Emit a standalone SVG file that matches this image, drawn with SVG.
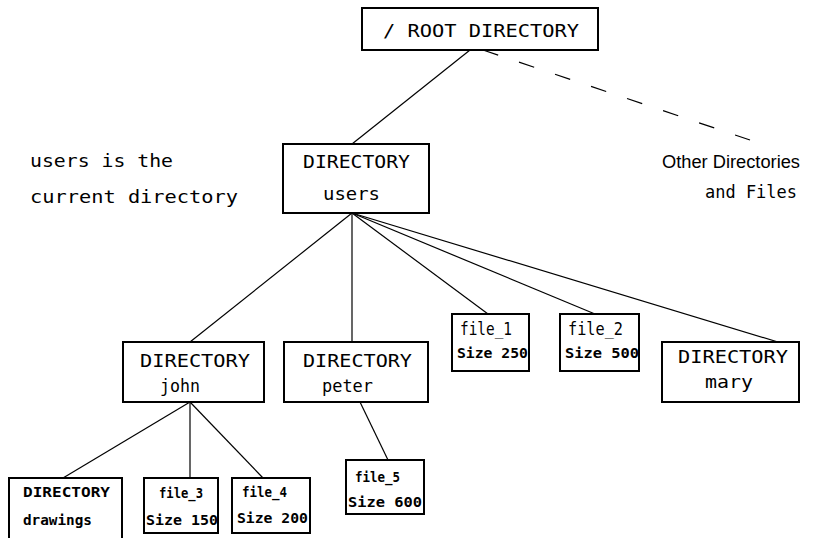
<svg xmlns="http://www.w3.org/2000/svg" width="836" height="538" viewBox="0 0 836 538">
<style>
.box{fill:#fff;stroke:#000;stroke-width:2}
.t{font-family:"DejaVu Sans Mono","Liberation Mono",monospace;font-size:18px;fill:#000}
.s{font-family:"DejaVu Sans Mono","Liberation Mono",monospace;font-size:14px;font-weight:bold;fill:#000}
.c{stroke:#000;stroke-width:1.2;fill:none}
</style>
<rect width="836" height="538" fill="#fff"/>
<g id="connectors">
<line class="c" x1="470" y1="50" x2="352" y2="144"/>
<line class="c" x1="483" y1="50" x2="750" y2="140" stroke-dasharray="16,22"/>
<line class="c" x1="352" y1="213" x2="190" y2="342"/>
<line class="c" x1="352" y1="213" x2="352" y2="342"/>
<line class="c" x1="352" y1="213" x2="488" y2="314"/>
<line class="c" x1="352" y1="213" x2="595" y2="314"/>
<line class="c" x1="352" y1="213" x2="778" y2="342"/>
<line class="c" x1="190" y1="402" x2="63" y2="478"/>
<line class="c" x1="190" y1="402" x2="190" y2="478"/>
<line class="c" x1="190" y1="402" x2="263" y2="478"/>
<line class="c" x1="360" y1="402" x2="388" y2="460"/>
</g>
<g id="root">
<rect class="box" x="362" y="8" width="236" height="42"/>
<text class="t" x="383" y="37" textLength="196" lengthAdjust="spacingAndGlyphs">/ ROOT DIRECTORY</text>
</g>
<g id="users">
<rect class="box" x="283" y="144" width="146" height="69"/>
<text class="t" x="303" y="168" textLength="107" lengthAdjust="spacingAndGlyphs">DIRECTORY</text>
<text class="t" x="323" y="200" textLength="57" lengthAdjust="spacingAndGlyphs">users</text>
</g>
<g id="note">
<text class="t" x="30" y="167" textLength="143" lengthAdjust="spacingAndGlyphs">users is the</text>
<text class="t" x="30" y="203" textLength="208" lengthAdjust="spacingAndGlyphs">current directory</text>
</g>
<g id="other">
<text class="t" x="662" y="168" style="font-family:'Liberation Sans',Arial,sans-serif" textLength="138" lengthAdjust="spacingAndGlyphs">Other Directories</text>
<text class="t" x="705" y="198" textLength="92" lengthAdjust="spacingAndGlyphs">and Files</text>
</g>
<g id="john">
<rect class="box" x="123" y="342" width="141" height="60"/>
<text class="t" x="140" y="367" textLength="110" lengthAdjust="spacingAndGlyphs">DIRECTORY</text>
<text class="t" x="160" y="392" textLength="40" lengthAdjust="spacingAndGlyphs">john</text>
</g>
<g id="peter">
<rect class="box" x="284" y="342" width="144" height="60"/>
<text class="t" x="303" y="367" textLength="109" lengthAdjust="spacingAndGlyphs">DIRECTORY</text>
<text class="t" x="322" y="392" textLength="51" lengthAdjust="spacingAndGlyphs">peter</text>
</g>
<g id="file_1">
<rect class="box" x="452" y="314" width="77" height="57"/>
<text class="t" x="460" y="335" textLength="52" lengthAdjust="spacingAndGlyphs">file_1</text>
<text class="s" x="457" y="358" textLength="71" lengthAdjust="spacingAndGlyphs">Size 250</text>
</g>
<g id="file_2">
<rect class="box" x="560" y="314" width="79" height="57"/>
<text class="t" x="568" y="335" textLength="55" lengthAdjust="spacingAndGlyphs">file_2</text>
<text class="s" x="565" y="358" textLength="74" lengthAdjust="spacingAndGlyphs">Size 500</text>
</g>
<g id="mary">
<rect class="box" x="662" y="342" width="137" height="60"/>
<text class="t" x="678" y="363" textLength="110" lengthAdjust="spacingAndGlyphs">DIRECTORY</text>
<text class="t" x="705" y="388" textLength="48" lengthAdjust="spacingAndGlyphs">mary</text>
</g>
<g id="drawings">
<rect class="box" x="9" y="478" width="113" height="64"/>
<text class="s" x="23" y="497" textLength="87" lengthAdjust="spacingAndGlyphs">DIRECTORY</text>
<text class="s" x="23" y="525" textLength="69" lengthAdjust="spacingAndGlyphs">drawings</text>
</g>
<g id="file_3">
<rect class="box" x="144" y="478" width="74" height="55"/>
<text class="s" x="159" y="498" textLength="44" lengthAdjust="spacingAndGlyphs">file_3</text>
<text class="s" x="146" y="525" textLength="72" lengthAdjust="spacingAndGlyphs">Size 150</text>
</g>
<g id="file_4">
<rect class="box" x="232" y="478" width="78" height="55"/>
<text class="s" x="242" y="497" textLength="45" lengthAdjust="spacingAndGlyphs">file_4</text>
<text class="s" x="237" y="523" textLength="71" lengthAdjust="spacingAndGlyphs">Size 200</text>
</g>
<g id="file_5">
<rect class="box" x="346" y="460" width="78" height="54"/>
<text class="s" x="355" y="482" textLength="45" lengthAdjust="spacingAndGlyphs">file_5</text>
<text class="s" x="348" y="507" textLength="74" lengthAdjust="spacingAndGlyphs">Size 600</text>
</g>
</svg>
